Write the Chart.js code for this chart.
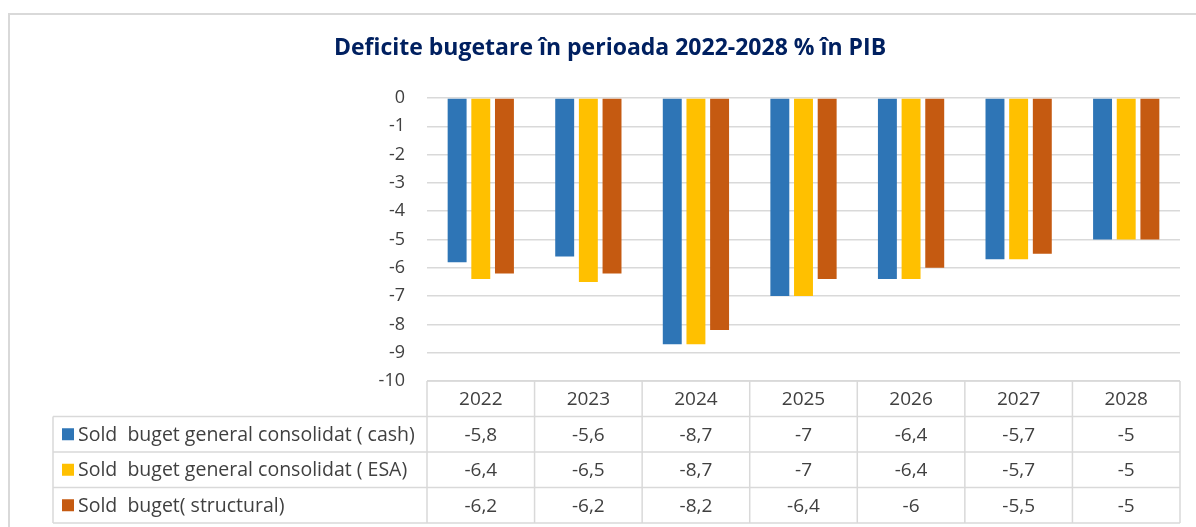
<!DOCTYPE html>
<html>
<head>
<meta charset="utf-8">
<script src="https://cdn.jsdelivr.net/npm/chart.js@4/dist/chart.umd.min.js"></script>
<style>
  body { margin: 0; background: #fff; }
  canvas { display: block; }
</style>
</head>
<body>
<canvas id="chart" width="1196" height="527"></canvas>
<script>
const years = ["2022", "2023", "2024", "2025", "2026", "2027", "2028"];
const seriesNames = [
    "Sold  buget general consolidat ( cash)",
    "Sold  buget general consolidat ( ESA)",
    "Sold  buget( structural)"
];
const cashValues = [-5.8, -5.6, -8.7, -7, -6.4, -5.7, -5];
const esaValues = [-6.4, -6.5, -8.7, -7, -6.4, -5.7, -5];
const structValues = [-6.2, -6.2, -8.2, -6.4, -6, -5.5, -5];
const colors = ["#2E75B6", "#FFC000", "#C55A11"];

const FONT = "'Open Sans', Lato, sans-serif";
const TEXT = "#404040";
const LINE = "#d9d9d9";

function fmt(v) {
    return String(v).replace(".", ",");
}

// outer frame + data table under the plot
const tablePlugin = {
    id: "dataTable",
    afterDraw(chart) {
        const ctx = chart.ctx;
        const x = chart.scales.x;
        const area = chart.chartArea;
        const rowH = 35.5;
        const legendLeft = 53;
        const allData = [cashValues, esaValues, structValues];

        ctx.save();
        // frame
        ctx.strokeStyle = LINE;
        ctx.lineWidth = 2;
        ctx.beginPath();
        ctx.moveTo(9, chart.height + 5);
        ctx.lineTo(9, 14);
        ctx.lineTo(chart.width + 5, 14);
        ctx.stroke();

        ctx.lineWidth = 1.5;
        ctx.beginPath();
        // horizontal lines
        ctx.moveTo(x.left, area.bottom);
        ctx.lineTo(x.right, area.bottom);
        for (let r = 1; r <= 4; r++) {
            ctx.moveTo(legendLeft, area.bottom + r * rowH);
            ctx.lineTo(x.right, area.bottom + r * rowH);
        }
        // vertical lines
        const step = (x.right - x.left) / years.length;
        for (let i = 0; i <= years.length; i++) {
            const px = x.left + i * step;
            ctx.moveTo(px, area.bottom);
            ctx.lineTo(px, area.bottom + 4 * rowH);
        }
        ctx.moveTo(legendLeft, area.bottom + rowH);
        ctx.lineTo(legendLeft, area.bottom + 4 * rowH);
        ctx.stroke();

        ctx.font = "19px " + FONT;
        ctx.fillStyle = TEXT;
        ctx.textBaseline = "middle";
        ctx.textAlign = "center";
        for (let i = 0; i < years.length; i++) {
            const cx = x.getPixelForValue(i);
            ctx.fillText(years[i], cx, area.bottom + rowH / 2 + 1);
            for (let s = 0; s < allData.length; s++) {
                ctx.fillText(fmt(allData[s][i]), cx, area.bottom + (s + 1.5) * rowH + 1);
            }
        }
        ctx.font = "19.5px " + FONT;
        ctx.textAlign = "left";
        for (let s = 0; s < seriesNames.length; s++) {
            const cy = area.bottom + (s + 1.5) * rowH;
            ctx.fillStyle = colors[s];
            ctx.fillRect(62, cy - 6, 12, 12);
            ctx.fillStyle = TEXT;
            ctx.fillText(seriesNames[s], 78, cy + 1);
        }
        ctx.restore();
    }
};

const ctx = document.getElementById("chart").getContext("2d");
const myChart = new Chart(ctx, {
    type: "bar",
    data: {
        labels: years,
        datasets: [
            { label: seriesNames[0], data: cashValues, backgroundColor: colors[0] },
            { label: seriesNames[1], data: esaValues, backgroundColor: colors[1] },
            { label: seriesNames[2], data: structValues, backgroundColor: colors[2] }
        ]
    },
    options: {
        responsive: false,
        animation: false,
        categoryPercentage: 0.66,
        barPercentage: 0.8,
        layout: {
            padding: { left: 40, right: 16, top: 0, bottom: 146 }
        },
        plugins: {
            legend: { display: false },
            tooltip: { enabled: false },
            title: {
                display: true,
                text: "Deficite bugetare în perioada 2022-2028 % în PIB",
                color: "#002060",
                font: { family: FONT, size: 23, weight: "bold", lineHeight: 1.2 },
                padding: { top: 35, bottom: 35.4 }
            }
        },
        scales: {
            x: {
                display: false
            },
            y: {
                min: -10,
                max: 0,
                ticks: {
                    stepSize: 1,
                    color: TEXT,
                    padding: 22,
                    font: { family: FONT, size: 18 }
                },
                grid: { color: LINE, lineWidth: 1.5, drawTicks: false },
                border: { display: false },
                afterFit: function (scale) {
                    scale.width = 387;
                }
            }
        }
    },
    plugins: [tablePlugin]
});
</script>
</body>
</html>
